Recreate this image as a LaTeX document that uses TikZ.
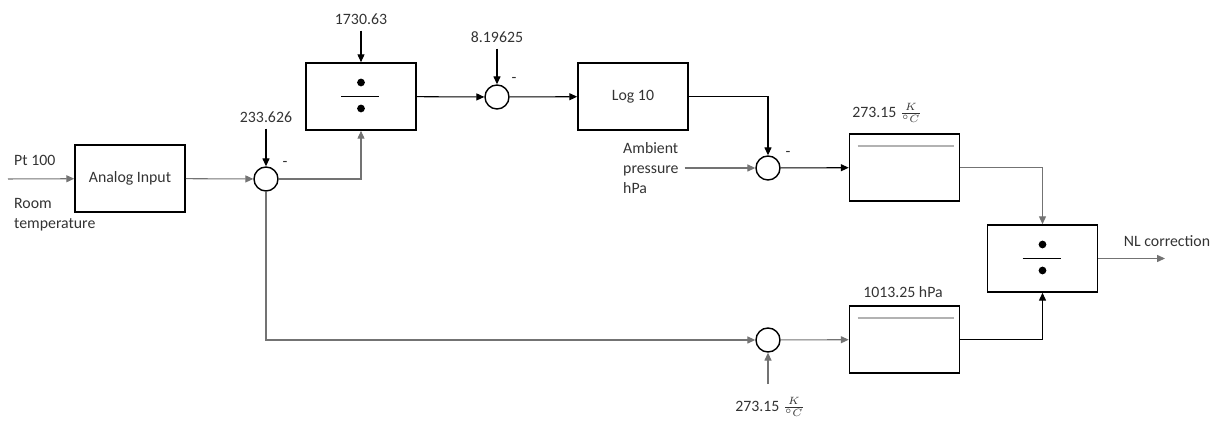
\documentclass[tikz,border=0pt]{standalone}
\usepackage{fontspec}
\setmainfont{Carlito}
\usetikzlibrary{positioning,arrows.meta,calc}

\tikzset{
  blk/.style={draw, line width=0.9pt, minimum width=2.2cm, minimum height=1.34cm, inner sep=0pt},
  sumnode/.style={draw, circle, line width=0.8pt, minimum size=0.48cm, inner sep=0pt},
  lbl/.style={text=black!80, font=\fontsize{9}{11.5}\selectfont},
  wire/.style={line width=0.6pt, -{Triangle[length=4.5pt,width=4pt]}},
  wirelt/.style={wire, draw=black!55},
}

\begin{document}
\begin{tikzpicture}[x=0.02cm,y=-0.02cm]
  \useasboundingbox (0,0) rectangle (1218,421);

  % Blocks
  \node[blk, lbl] (ain) at (130,178.5) {Analog Input};
  \node[blk] (div1) at (361,96.5) {};
  \node[blk, lbl] (log) at (633,96.5) {Log 10};
  \node[blk] (box3) at (904.5,167.5) {};
  \node[blk] (div2) at (1042.5,258.5) {};
  \node[blk] (box4) at (904.5,339.5) {};

  % Summing points
  \node[sumnode] (s1) at (266,179) {};
  \node[sumnode] (s2) at (497,97) {};
  \node[sumnode] (s3) at (768,168) {};
  \node[sumnode] (s4) at (768,340) {};

  % Division marks
  \foreach \d in {div1,div2} {
    \fill ($(\d.center)+(0,-14)$) circle (2.2pt);
    \fill ($(\d.center)+(0,12)$) circle (2.2pt);
    \draw[line width=0.5pt] ($(\d.center)+(-20,0)$) -- ($(\d.center)+(18,0)$);
  }
  % Grey bars
  \foreach \b in {box3,box4}
    \draw[black!30, line width=1.2pt] ($(\b.north west)+(9,13)$) -- ($(\b.north east)+(-6,13)$);

  % Labels
  \node[lbl] (c1730) at (361,19) {1730.63};
  \node[lbl] (c233) at (266,117) {233.626};
  \node[lbl] (c819) at (497,37) {8.19625};
  \node[lbl] (ckelv) at (887,113) {273.15 $\frac{K}{{}^\circ C}$};
  \node[lbl] (chpa) at (903,292) {1013.25 hPa};
  \node[lbl] (ckelvb) at (770,407) {273.15 $\frac{K}{{}^\circ C}$};
  \node[lbl, anchor=west] (pt) at (8,160) {Pt 100};
  \node[lbl, anchor=west, align=left] (room) at (8,215) {Room\\temperature};
  \node[lbl, anchor=west, align=left] (amb) at (617,168) {Ambient\\pressure\\hPa};
  \node[lbl] (nl) at (1167,241) {NL correction};
  \node[lbl] (m1) at (285,164) {-};
  \node[lbl] (m2) at (514,80) {-};
  \node[lbl] (m3) at (788,154) {-};

  % Connections
  \coordinate (inp) at (8,179);
  \coordinate (out) at (1165,258.5);
  \draw[wirelt] (inp) -- (ain);
  \draw[wirelt] (ain) -- (s1);
  \draw[wire] (c233) -- (s1);
  \draw[wirelt] (s1) -| (div1);
  \draw[wire] (c1730) -- (div1);
  \draw[wire] (div1) -- (s2);
  \draw[wire] (c819) -- (s2);
  \draw[wire] (s2) -- (log);
  \draw[wire] (log) -| (s3);
  \draw[wirelt] (amb) -- (s3);
  \draw[wire] (s3) -- (box3);
  \draw[wirelt] (box3) -| (div2);
  \draw[wirelt] (s1) |- (s4);
  \draw[wirelt, shorten <=4pt] (s4 |- ckelvb.north) -- (s4);
  \draw[wirelt] (s4) -- (box4);
  \draw[wire] (box4) -| (div2);
  \draw[wirelt] (div2) -- (out);
\end{tikzpicture}
\end{document}
